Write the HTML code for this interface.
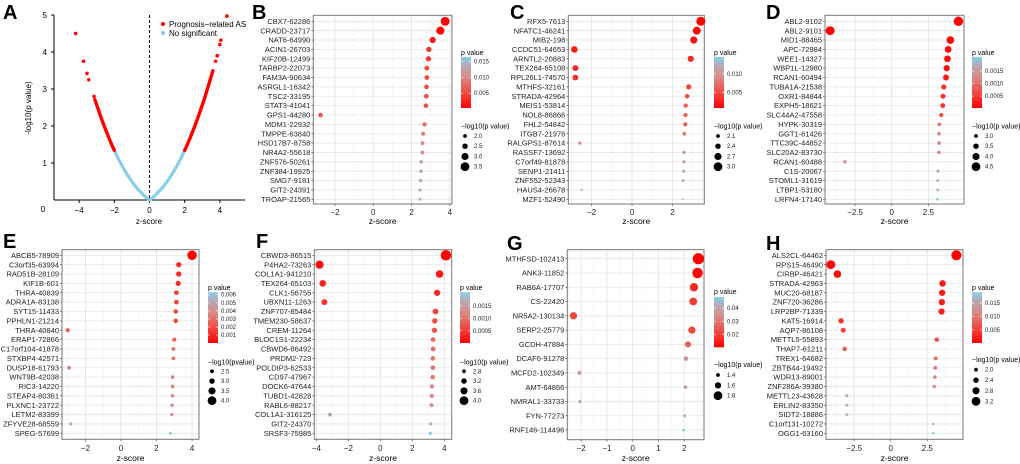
<!DOCTYPE html>
<html><head><meta charset="utf-8"><style>
html,body{margin:0;padding:0;background:#fff;}
svg{display:block;font-family:"Liberation Sans",Arial,sans-serif;}
</style></head><body>
<svg id="fig" width="1020" height="464" viewBox="0 0 1020 464"></svg>
<script>
// ---------- Panel A data ----------
const aCurveZ=[-3.1,-3.0,-2.9,-2.8,-2.7,-2.6,-2.5,-2.4,-2.3,-2.2,-2.1,-2.0,-1.9,-1.8,-1.7,-1.6,-1.5,-1.4,-1.3,-1.2,-1.1,-1.0,-0.9,-0.8,-0.7,-0.6,-0.5,-0.4,-0.3,-0.2,-0.1,0,0.1,0.2,0.3,0.4,0.5,0.6,0.7,0.8,0.9,1.0,1.1,1.2,1.3,1.4,1.5,1.6,1.7,1.8,1.9,2.0,2.1,2.2,2.3,2.4,2.5,2.6,2.7,2.8,2.9,3.0,3.1,3.2,3.3,3.4,3.5,3.6];
const aCurveY=[2.71,2.569,2.43,2.292,2.16,2.032,1.907,1.786,1.668,1.556,1.447,1.342,1.24,1.143,1.049,0.959,0.873,0.792,0.713,0.638,0.565,0.498,0.434,0.373,0.317,0.263,0.215,0.163,0.117,0.072,0.035,0,0.035,0.072,0.117,0.163,0.215,0.263,0.317,0.373,0.434,0.498,0.565,0.638,0.713,0.792,0.873,0.959,1.049,1.143,1.24,1.342,1.447,1.556,1.668,1.786,1.907,2.032,2.16,2.292,2.43,2.569,2.71,2.862,3.02,3.17,3.33,3.495];
const aOutZ=[-3.15,-3.45,-3.55,-3.75,-4.2,3.75,3.85,4.0,4.05,4.4];
const aOutY=[2.8,3.25,3.42,3.75,4.5,3.75,3.9,4.2,4.32,4.97];
const aXTicks=[-4,-2,0,2,4];
const aYTicks=[1,2,3,4,5];

// ---------- Panel B ----------
const bNames=["CBX7-62286","CRADD-23717","NAT6-64990","ACIN1-26703","KIF20B-12499","TARBP2-22073","FAM3A-90634","ASRGL1-16342","TSC2-33195","STAT3-41041","GPS1-44280","MDM1-22932","TMPPE-63840","HSD17B7-8758","NR4A2-55618","ZNF576-50261","ZNF384-19925","SMG7-9181","GIT2-24391","TROAP-21565"];
const bZ=[3.75,3.5,3.1,2.9,2.88,2.8,2.8,2.78,2.77,2.75,-2.75,2.68,2.6,2.57,2.56,2.5,2.49,2.47,2.44,2.43];
const bP=[0.0003,0.0005,0.0019,0.0036,0.0038,0.005,0.0051,0.0053,0.0054,0.0056,0.006,0.0075,0.009,0.01,0.0103,0.0125,0.013,0.0135,0.0148,0.0155];
const bXTicks=[-2,0,2,4];
const bPTicks=[0.015,0.010,0.005];
const bSizeTicks=[2.0,2.5,3.0,3.5];

// ---------- Panel C ----------
const cNames=["RFX5-7613","NFATC1-46241","MIB2-198","CCDC51-64653","ARNTL2-20883","TEX264-65108","RPL26L1-74570","MTHFS-32161","STRADA-42964","MEIS1-53814","NOL8-86866","FHL2-54842","ITGB7-21976","RALGPS1-87614","RASSF7-13692","C7orf49-81878","SENP1-21411","ZNF552-52343","HAUS4-26678","MZF1-52490"];
const cZ=[3.4,3.2,3.05,-2.85,2.9,-2.8,-2.8,2.8,2.72,2.65,2.64,2.63,2.58,-2.58,2.57,2.56,2.55,2.52,-2.5,2.5];
const cP=[0.0009,0.0014,0.0019,0.0025,0.003,0.0032,0.0034,0.0045,0.0055,0.0062,0.0064,0.0066,0.008,0.0098,0.0102,0.0106,0.0112,0.0122,0.014,0.0145];
const cXTicks=[-2,0,2];
const cPTicks=[0.010,0.005];
const cSizeTicks=[2.1,2.4,2.7,3.0];

// ---------- Panel D ----------
const dNames=["ABL2-9102","ABL2-9101","MID1-88465","APC-72984","WEE1-14327","WBP1L-12980","RCAN1-60494","TUBA1A-21538","OXR1-84844","EXPH5-18621","SLC44A2-47558","HYPK-30319","GGT1-61426","TTC39C-44852","SLC20A2-83730","RCAN1-60488","C1S-20067","STOML1-31619","LTBP1-53180","LRFN4-17140"];
const dZ=[4.55,-4.2,4.0,3.85,3.8,3.75,3.7,3.55,3.5,3.48,3.38,3.25,3.23,3.23,3.22,-3.2,3.15,3.14,3.13,3.12];
const dP=[0.00002,0.00003,0.00007,0.00012,0.00014,0.00018,0.00023,0.0004,0.00045,0.00048,0.0007,0.0011,0.00115,0.00118,0.0012,0.0014,0.0017,0.0018,0.0019,0.00205];
const dXTicks=[-2.5,0,2.5];
const dPTicks=[0.0015,0.0010,0.0005];
const dSizeTicks=[3.0,3.5,4.0,4.5];

// ---------- Panel E ----------
const eNames=["ABCB5-78909","C3orf35-63994","RAD51B-28109","KIF1B-601","THRA-40839","ADRA1A-83138","SYT15-11433","PPHLN1-21214","THRA-40840","ERAP1-72866","C17orf104-41878","STXBP4-42571","DUSP18-61793","WNT9B-42038","RIC3-14220","STEAP4-80361","PLXNC1-23722","LETM2-83399","ZFYVE28-68559","SPEG-57699"];
const eZ=[4.0,3.25,3.25,3.22,3.12,3.12,3.08,3.08,-3.0,3.0,2.95,2.95,-2.92,2.9,2.9,2.9,2.88,2.86,-2.82,2.78];
const eP=[0.00006,0.0011,0.0011,0.0012,0.0017,0.0017,0.0019,0.0019,0.0025,0.0026,0.0031,0.0031,0.0034,0.0036,0.0036,0.0037,0.0039,0.0042,0.005,0.0062];
const eXTicks=[-2,0,2,4];
const ePTicks=[0.006,0.005,0.004,0.003,0.002,0.001];
const eSizeTicks=[2.5,3.0,3.5,4.0];

// ---------- Panel F ----------
const fNames=["CBWD3-86515","P4HA2-73263","COL1A1-941210","TEX264-65103","CLK1-56755","UBXN11-1263","ZNF707-85484","TMEM230-58637","CREM-11264","BLOC1S1-22234","CBWD6-86492","PRDM2-723","POLDIP3-62533","CD97-47967","DOCK6-47644","TUBD1-42828","RABL6-88217","COL1A1-316125","GIT2-24370","SRSF3-75985"];
const fZ=[4.1,-3.8,3.7,-3.6,3.55,-3.5,3.45,3.4,3.38,3.3,3.3,3.28,3.28,3.27,3.22,3.22,3.2,-3.15,3.15,3.12];
const fP=[0.00004,0.00014,0.0002,0.00032,0.00038,0.00045,0.00055,0.00065,0.00068,0.00095,0.00098,0.001,0.00102,0.00105,0.0012,0.00125,0.0013,0.0016,0.0019,0.00204];
const fXTicks=[-4,-2,0,2,4];
const fPTicks=[0.0015,0.0010,0.0005];
const fSizeTicks=[2.8,3.2,3.6,4.0];

// ---------- Panel G ----------
const gNames=["MTHFSD-102413","ANK3-11852","RAB6A-17707","CS-22420","NR5A2-130134","SERP2-25779","GCDH-47884","DCAF6-91278","MCFD2-102349","AMT-64866","NMRAL1-33733","FYN-77273","RNF146-114496"];
const gZ=[2.55,2.52,2.38,2.35,-2.3,2.3,2.15,2.07,-2.07,2.05,-2.05,2.02,1.98];
const gP=[0.0102,0.0115,0.017,0.019,0.021,0.021,0.026,0.035,0.038,0.04,0.042,0.045,0.0485];
const gXTicks=[-2,-1,0,1,2];
const gPTicks=[0.04,0.03,0.02];
const gSizeTicks=[1.4,1.6,1.8];

// ---------- Panel H ----------
const hNames=["ALS2CL-64462","RPS15-46490","CIRBP-46421","STRADA-42963","MUC20-68187","ZNF720-36286","LRP2BP-71339","KAT5-16914","AQP7-86108","METTL5-55893","THAP7-61211","TREX1-64682","ZBTB44-19492","WDR13-89001","ZNF286A-39380","METTL23-43628","ERLIN2-83350","SIDT2-18886","C1orf131-10272","OGG1-63160"];
const hZ=[4.5,-4.1,-3.65,3.55,3.52,3.5,3.48,-3.4,-3.25,3.15,-3.15,3.08,3.05,3.02,2.98,-3.0,-3.0,-3.0,2.92,2.92];
const hP=[0.0003,0.0006,0.0012,0.0022,0.0024,0.0025,0.0026,0.004,0.0052,0.0065,0.007,0.0095,0.01,0.0108,0.012,0.015,0.0155,0.0165,0.018,0.0191];
const hXTicks=[-2.5,0,2.5];
const hPTicks=[0.015,0.010,0.005];
const hSizeTicks=[2.0,2.4,2.8,3.2];

const NS="http://www.w3.org/2000/svg";
const svg=document.getElementById('fig');
function mk(tag,attrs,parent){const e=document.createElementNS(NS,tag);for(const k in attrs)e.setAttribute(k,attrs[k]);(parent||svg).appendChild(e);return e;}
function txt(s,attrs,parent){const e=mk('text',attrs,parent);e.textContent=s;return e;}
function lerp(a,b,t){return a+(b-a)*t;}
function hex(c){return [parseInt(c.slice(1,3),16),parseInt(c.slice(3,5),16),parseInt(c.slice(5,7),16)];}
const stops=[[0,'#ff0000'],[0.3,'#ee4a40'],[0.6,'#d98a88'],[0.82,'#b9a9b6'],[1,'#87ceeb']];
function colorAt(t){t=Math.max(0,Math.min(1,t));for(let i=1;i<stops.length;i++){if(t<=stops[i][0]){const a=hex(stops[i-1][1]),b=hex(stops[i][1]);const u=(t-stops[i-1][0])/(stops[i][0]-stops[i-1][0]);return 'rgb('+[0,1,2].map(k=>Math.round(lerp(a[k],b[k],u))).join(',')+')';}}return stops[stops.length-1][1];}
function fmt(v){return String(v);}

[['A',3,19],['B',252,19],['C',510,19],['D',766,19],['E',3,248],['F',256,248],['G',507,250],['H',766,250]].forEach(l=>{
  const t=txt(l[0],{x:l[1],y:l[2],'font-size':20,'font-weight':'bold',fill:'#000'});
  
  
});

// ---------- Panel A ----------
(function(){
  const g=mk('g',{});
  
  
  const x0=149.5,ux=17.6,y0=200,uy=37;
  const sx=z=>x0+z*ux, sy=v=>y0-v*uy;
  mk('line',{x1:54,y1:200,x2:245,y2:200,stroke:'#000','stroke-width':1},g);
  mk('line',{x1:54,y1:15,x2:54,y2:200,stroke:'#000','stroke-width':1},g);
  aXTicks.forEach(t=>{mk('line',{x1:sx(t),y1:200,x2:sx(t),y2:203,stroke:'#000'},g);
    const e=txt(fmt(t).replace('-','\u2212'),{x:sx(t),y:213,'font-size':8,'text-anchor':'middle'},g);
    });
  aYTicks.forEach(t=>{mk('line',{x1:51,y1:sy(t),x2:54,y2:sy(t),stroke:'#000'},g);
    const e=txt(fmt(t),{x:47,y:sy(t)+3,'font-size':8,'text-anchor':'end'},g);
    });
  txt('0',{x:43,y:212,'font-size':8,'text-anchor':'middle'},g);
  const xl=txt('z-score',{x:149,y:224,'font-size':8,'text-anchor':'middle'},g);
  
  const yl=txt('-log10(p value)',{x:0,y:0,'font-size':8,'text-anchor':'middle',transform:'translate(31,108) rotate(-90)'},g);
  
  mk('line',{x1:x0,y1:15,x2:x0,y2:200,stroke:'#000','stroke-dasharray':'3,2','stroke-width':1},g);
  const blue=[],lred=[],rred=[];
  aCurveZ.forEach((z,i)=>{const p=sx(z).toFixed(1)+','+sy(aCurveY[i]).toFixed(1);
    if(Math.abs(z)<=2)blue.push(p); if(z<=-1.95)lred.push(p); if(z>=1.95)rred.push(p);});
  const pb=mk('polyline',{points:blue.join(' '),fill:'none',stroke:'#87ceeb','stroke-width':3.2,'stroke-linecap':'round','stroke-linejoin':'round'},g);
  
  [lred,rred].forEach(pts=>{const p=mk('polyline',{points:pts.join(' '),fill:'none',stroke:'#ff0000','stroke-width':3.4,'stroke-linecap':'round','stroke-linejoin':'round'},g);
    });
  aOutZ.forEach((z,i)=>{const c=mk('circle',{cx:sx(z),cy:sy(aOutY[i]),r:1.8,fill:'#ff0000'},g);
    });
  const l1=mk('circle',{cx:163,cy:24,r:2,fill:'#ff0000'},g);
  
  const lt1=txt('Prognosis\u2212related AS',{x:169,y:27,'font-size':8},g);
  
  const l2=mk('circle',{cx:163,cy:33,r:2,fill:'#87ceeb'},g);
  
  const lt2=txt('No significant',{x:169,y:36,'font-size':8},g);
  
})();

function dotPanel(cfg){
  const g=mk('g',{});
  
  
  const {L,R,T,B,zMin,zMax,rowFirst,rowLast}=cfg;
  const sx=z=>L+(z-zMin)/(zMax-zMin)*(R-L);
  const n=cfg.names.length;
  const sy=i=>rowFirst+(rowLast-rowFirst)*i/(n-1);
  mk('rect',{x:L,y:T,width:R-L,height:B-T,fill:'#fff'},g);
  const step=cfg.xt[1]-cfg.xt[0];
  for(let v=cfg.xt[0]-step;v<=cfg.xt[cfg.xt.length-1]+step;v+=step/2){
    if(v<zMin||v>zMax)continue;
    const major=cfg.xt.some(t=>Math.abs(t-v)<1e-6);
    mk('line',{x1:sx(v),y1:T,x2:sx(v),y2:B,stroke:major?'#e3e3e3':'#f3f3f3','stroke-width':major?0.9:0.6},g);
  }
  for(let i=0;i<n;i++)mk('line',{x1:L,y1:sy(i),x2:R,y2:sy(i),stroke:'#e6e6e6','stroke-width':0.8},g);
  mk('rect',{x:L,y:T,width:R-L,height:B-T,fill:'none',stroke:'#777','stroke-width':1},g);
  const s0=cfg.st[0],s1=cfg.st[cfg.st.length-1],r0=1.9,r1=4.4;
  const rad=v=>Math.max(1.0,r0+(v-s0)/(s1-s0)*(r1-r0));
  const pTop=cfg.pHi,pBot=cfg.pLo;
  const ct=p=>(p-pBot)/(pTop-pBot);
  cfg.names.forEach((nm,i)=>{
    const t=txt(nm,{x:L-3,y:sy(i)+2.6,'font-size':7.5,'text-anchor':'end',fill:'#222'},g);
    
    mk('line',{x1:L-2,y1:sy(i),x2:L,y2:sy(i),stroke:'#555','stroke-width':0.7},g);
    const p=cfg.p[i];
    const c=mk('circle',{cx:sx(cfg.z[i]),cy:sy(i),r:rad(-Math.log10(p)),fill:colorAt(ct(p))},g);
    
  });
  cfg.xt.forEach(t=>{mk('line',{x1:sx(t),y1:B,x2:sx(t),y2:B+2,stroke:'#555','stroke-width':0.7},g);
    const e=txt(fmt(t).replace('-','\u2212'),{x:sx(t),y:cfg.tickY+3,'font-size':8,'text-anchor':'middle',fill:'#222'},g);
    });
  const xl=txt('z-score',{x:(L+R)/2,y:cfg.titleY+3,'font-size':8.5,'text-anchor':'middle'},g);
  
  const lx=cfg.lx;
  const pt=txt('p value',{x:lx,y:cfg.ptY+2.5,'font-size':7},g);
  
  const gid='grad'+cfg.id;
  const defs=mk('defs',{},g);
  const lg=mk('linearGradient',{id:gid,x1:0,y1:1,x2:0,y2:0},defs);
  stops.forEach(s=>mk('stop',{offset:s[0],'stop-color':s[1]},lg));
  const cb=mk('rect',{x:lx,y:cfg.cbT,width:10,height:cfg.cbB-cfg.cbT,fill:'url(#'+gid+')'},g);
  
  const cy=p=>cfg.cbB-(p-pBot)/(pTop-pBot)*(cfg.cbB-cfg.cbT);
  cfg.pt.forEach(p=>{const y=cy(p);
    mk('line',{x1:lx,y1:y,x2:lx+2,y2:y,stroke:'#fff','stroke-width':0.6},g);
    mk('line',{x1:lx+8,y1:y,x2:lx+10,y2:y,stroke:'#fff','stroke-width':0.6},g);
    const e=txt(String(p.toFixed(cfg.dec)),{x:lx+13,y:y+2,'font-size':6,fill:'#222'},g);
    });
  const st=txt(cfg.sizeTitle,{x:lx,y:cfg.stY+2.5,'font-size':7},g);
  
  cfg.st.forEach((v,i)=>{const y=cfg.sY[0]+(cfg.sY[1]-cfg.sY[0])*i/(cfg.st.length-1);
    const c=mk('circle',{cx:lx+4,cy:y,r:rad(v),fill:'#000'},g);
    
    const e=txt(v.toFixed(1),{x:lx+13,y:y+2,'font-size':6,fill:'#222'},g);
    });
}

const topCfg={T:15.3,B:204,rowFirst:21.3,rowLast:199.3,tickY:212,titleY:221,ptY:52.5,cbT:57,cbB:108,stY:126,sY:[136,166.7],sizeTitle:'\u2212log10(p value)'};
const botCfg={T:249.7,B:439.3,rowFirst:255.3,rowLast:433.3,tickY:448,titleY:458,ptY:287.3,cbT:292.3,cbB:343,stY:362,sY:[371.3,400.7],sizeTitle:'\u2212log10(p value)'};

dotPanel(Object.assign({},topCfg,{id:'b',L:313.3,R:452,zMin:-3.13,zMax:4.11,names:bNames,z:bZ,p:bP,xt:bXTicks,pt:bPTicks,st:bSizeTicks,lx:461,pLo:0.0003,pHi:0.0165,dec:3}));
dotPanel(Object.assign({},topCfg,{id:'c',L:568.3,R:704.3,zMin:-3.15,zMax:3.57,names:cNames,z:cZ,p:cP,xt:cXTicks,pt:cPTicks,st:cSizeTicks,lx:714,pLo:0.0009,pHi:0.0145,dec:3}));
dotPanel(Object.assign({},topCfg,{id:'d',L:825,R:964,zMin:-4.55,zMax:4.93,names:dNames,z:dZ,p:dP,xt:dXTicks,pt:dPTicks,st:dSizeTicks,lx:972,pLo:0.00002,pHi:0.00207,dec:4}));
dotPanel(Object.assign({},botCfg,{id:'e',L:62,R:199,zMin:-3.32,zMax:4.39,names:eNames,z:eZ,p:eP,xt:eXTicks,pt:ePTicks,st:eSizeTicks,lx:208,pLo:0.00001,pHi:0.0063,dec:3,sizeTitle:'\u2212log10(pvalue)'}));
dotPanel(Object.assign({},botCfg,{id:'f',L:314.3,R:451.7,zMin:-4.13,zMax:4.46,names:fNames,z:fZ,p:fP,xt:fXTicks,pt:fPTicks,st:fSizeTicks,lx:460,pLo:0.00001,pHi:0.00204,dec:4}));
dotPanel(Object.assign({},botCfg,{id:'g',L:567.3,R:704,T:249.7,B:439.7,rowFirst:258.7,rowLast:430,zMin:-2.54,zMax:2.77,names:gNames,z:gZ,p:gP,xt:gXTicks,pt:gPTicks,st:gSizeTicks,lx:714,ptY:291.3,cbT:297,cbB:347.3,stY:364.7,sY:[375,395.7],pLo:0.0102,pHi:0.0485,dec:2}));
dotPanel(Object.assign({},botCfg,{id:'h',L:826,R:963,zMin:-4.43,zMax:4.95,names:hNames,z:hZ,p:hP,xt:hXTicks,pt:hPTicks,st:hSizeTicks,lx:972,stY:359.7,sY:[369.7,401.3],pLo:0.0001,pHi:0.0191,dec:3}));
</script>
</body></html>
